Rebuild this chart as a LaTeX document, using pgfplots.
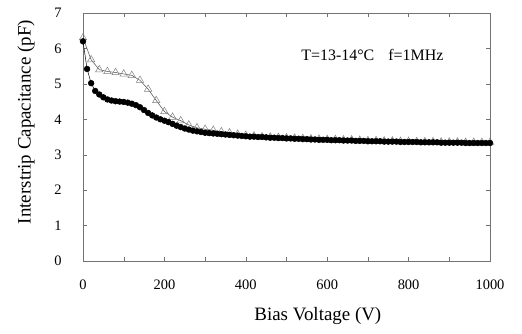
\documentclass[border=0pt]{standalone}
\usepackage{pgfplots}
\pgfplotsset{compat=1.18}
\usepackage{fontspec}
\setmainfont{Liberation Serif}
\begin{document}
\begin{tikzpicture}
\path[use as bounding box] (0,0) rectangle (522bp,334bp);
\begin{axis}[
  at={(83bp,73bp)}, anchor=south west,
  width=407bp, height=248bp, scale only axis,
  xmin=0, xmax=1000, ymin=0, ymax=7,
  xtick={0,200,...,1000}, minor xtick={100,300,...,900},
  ytick={0,1,...,7},
  tick align=inside,
  major tick length=4bp, minor tick length=4bp,
  axis line style={black!55},
  every tick/.style={black!55},
  /pgf/number format/assume math mode=true,
  /pgf/number format/1000 sep={},
  ticklabel style={font=\fontsize{14.5}{16}\selectfont},
  yticklabel style={xshift=-18bp},
  xticklabel style={yshift=-15bp},
  xlabel={Bias Voltage (V)},
  ylabel={Interstrip Capacitance (pF)},
  xlabel style={at={(axis description cs:0.577,-0.22)}, anchor=center, font=\fontsize{19}{21}\selectfont},
  ylabel style={at={(axis description cs:-0.14,0.56)}, anchor=center, rotate=0, font=\fontsize{19}{21}\selectfont},
  clip=false,
]
\addplot[black!70, line width=0.5pt, mark=triangle, mark size=4.3bp, mark options={black!50, fill=white, line width=0.5pt}] coordinates {
(0,6.30)(20,5.68)(40,5.40)(60,5.35)(80,5.32)(100,5.28)(120,5.24)(140,5.10)(160,4.85)(180,4.53)
(200,4.22)(220,4.06)(240,3.96)(260,3.84)(280,3.76)(300,3.72)(320,3.69)(340,3.65)(360,3.62)(380,3.58)
(400,3.55)(420,3.53)(440,3.51)(460,3.50)(480,3.49)(500,3.48)(520,3.47)(540,3.46)(560,3.45)(580,3.44)
(600,3.43)(620,3.43)(640,3.42)(660,3.42)(680,3.41)(700,3.40)(720,3.40)(740,3.39)(760,3.39)(780,3.38)
(800,3.38)(820,3.37)(840,3.37)(860,3.37)(880,3.36)(900,3.36)(920,3.36)(940,3.35)(960,3.35)(980,3.35)(1000,3.35)
};
\addplot[black, line width=0.5pt, mark=*, mark size=2.9bp, mark options={black}] coordinates {
(0,6.20)(10,5.42)(20,5.02)(30,4.80)(40,4.70)(50,4.62)(60,4.56)(70,4.53)(80,4.51)(90,4.50)
(100,4.49)(110,4.47)(120,4.44)(130,4.40)(140,4.34)(150,4.26)(160,4.18)(170,4.11)(180,4.05)(190,4.00)
(200,3.96)(210,3.92)(220,3.87)(230,3.82)(240,3.78)(250,3.74)(260,3.71)(270,3.68)(280,3.66)(290,3.64)
(300,3.62)(310,3.61)(320,3.60)(330,3.59)(340,3.58)(350,3.57)(360,3.56)(370,3.55)(380,3.54)(390,3.53)
(400,3.52)(410,3.51)(420,3.51)(430,3.50)(440,3.50)(450,3.49)(460,3.48)(470,3.48)(480,3.47)(490,3.47)
(500,3.46)(510,3.46)(520,3.45)(530,3.45)(540,3.44)(550,3.44)(560,3.43)(570,3.43)(580,3.42)(590,3.42)
(600,3.42)(610,3.41)(620,3.41)(630,3.41)(640,3.40)(650,3.40)(660,3.40)(670,3.39)(680,3.39)(690,3.39)
(700,3.38)(710,3.38)(720,3.38)(730,3.38)(740,3.37)(750,3.37)(760,3.37)(770,3.37)(780,3.36)(790,3.36)
(800,3.36)(810,3.36)(820,3.36)(830,3.35)(840,3.35)(850,3.35)(860,3.35)(870,3.35)(880,3.34)(890,3.34)
(900,3.34)(910,3.34)(920,3.34)(930,3.34)(940,3.33)(950,3.33)(960,3.33)(970,3.33)(980,3.33)(990,3.33)(1000,3.33)
};
\node[font=\fontsize{16}{18}\selectfont] at (axis cs:711,5.82) {T=13-14°C\hspace{14bp}f=1MHz};
\end{axis}
\end{tikzpicture}
\end{document}
